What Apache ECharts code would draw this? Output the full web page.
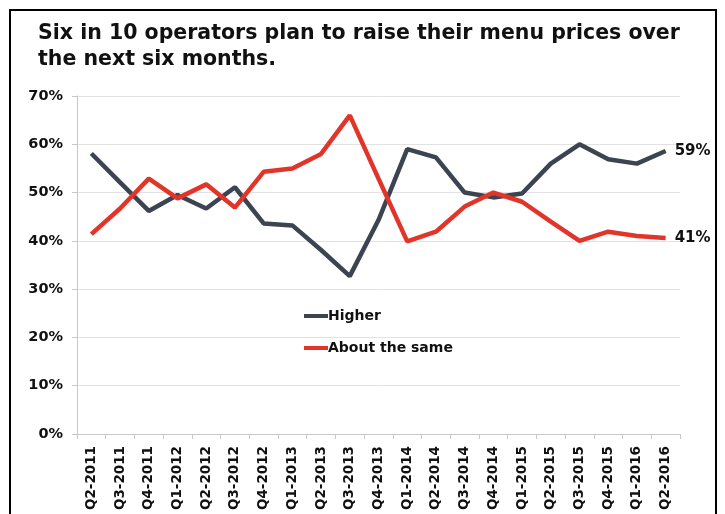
<!DOCTYPE html>
<html><head><meta charset="utf-8">
<script src="https://cdn.jsdelivr.net/npm/echarts@6/dist/echarts.min.js"></script>
<style>html,body{margin:0;padding:0;background:#fff}#c{width:725px;height:514px}</style>
</head><body><div id="c"></div>
<script>
var categories = ["Q2-2011","Q3-2011","Q4-2011","Q1-2012","Q2-2012","Q3-2012","Q4-2012","Q1-2013","Q2-2013","Q3-2013","Q4-2013","Q1-2014","Q2-2014","Q3-2014","Q4-2014","Q1-2015","Q2-2015","Q3-2015","Q4-2015","Q1-2016","Q2-2016"];
var higher = [58.1,52.1,46.2,49.5,46.7,51.1,43.6,43.2,38.1,32.7,44.3,59.0,57.3,50.0,49.0,49.8,56.0,60.0,56.9,56.0,58.6];
var aboutSame = [41.4,46.7,52.9,48.8,51.7,46.9,54.3,55.0,58.0,66.0,52.9,39.9,41.9,47.1,50.0,48.1,44.0,40.0,41.9,41.0,40.6];
var yTicks = [0,10,20,30,40,50,60,70];
var titleText = "Six in 10 operators plan to raise their menu prices over\nthe next six months.";

var F = "DejaVu Sans";
var chart = echarts.init(document.getElementById('c'));
function endLbl(){
  return {show:true, formatter:function(p){return Math.round(p.value)+'%';}, color:'#111', fontFamily:F, fontWeight:'bold', fontSize:15, distance:9};
}
chart.setOption({
  animation:false,
  backgroundColor:'#fff',
  title:{text:titleText, left:33, top:16, textStyle:{fontFamily:F, fontWeight:'bold', fontSize:20.5, color:'#111', lineHeight:26}},
  graphic:[{type:'rect', shape:{x:10, y:10, width:706, height:520}, style:{fill:'none', stroke:'#000', lineWidth:2}, silent:true}],
  legend:{orient:'vertical', left:299, top:304, itemGap:18, itemWidth:24, itemHeight:4,
    icon:'rect',
    textStyle:{fontFamily:F, fontWeight:'bold', fontSize:14, color:'#111', padding:[0,0,0,-5]},
    data:['Higher','About the same']},
  grid:{left:77, right:45, top:96, bottom:80},
  xAxis:{type:'category', data:categories, boundaryGap:true,
    axisLine:{lineStyle:{color:'#c8c8c8'}},
    axisTick:{show:true, length:5, lineStyle:{color:'#c8c8c8'}},
    axisLabel:{rotate:90, interval:0, fontFamily:F, fontWeight:'bold', fontSize:13.5, color:'#111', margin:12}},
  yAxis:{type:'value', min:0, max:70, interval:10,
    axisLine:{show:true, lineStyle:{color:'#c8c8c8'}},
    axisTick:{show:true, length:5, lineStyle:{color:'#c8c8c8'}},
    splitLine:{lineStyle:{color:'#e2e2e2'}},
    axisLabel:{formatter:function(v){return yTicks.indexOf(v)>=0? v+'%':'';}, fontFamily:F, fontWeight:'bold', fontSize:14.5, color:'#111', margin:14}},
  series:[
    {name:'Higher', type:'line', data:higher, symbol:'none', color:'#3b4450', lineStyle:{width:4.5, color:'#3b4450'},
     endLabel:endLbl()},
    {name:'About the same', type:'line', data:aboutSame, symbol:'none', color:'#e2352a', lineStyle:{width:4.5, color:'#e2352a'},
     endLabel:endLbl()}
  ]
});
</script></body></html>
